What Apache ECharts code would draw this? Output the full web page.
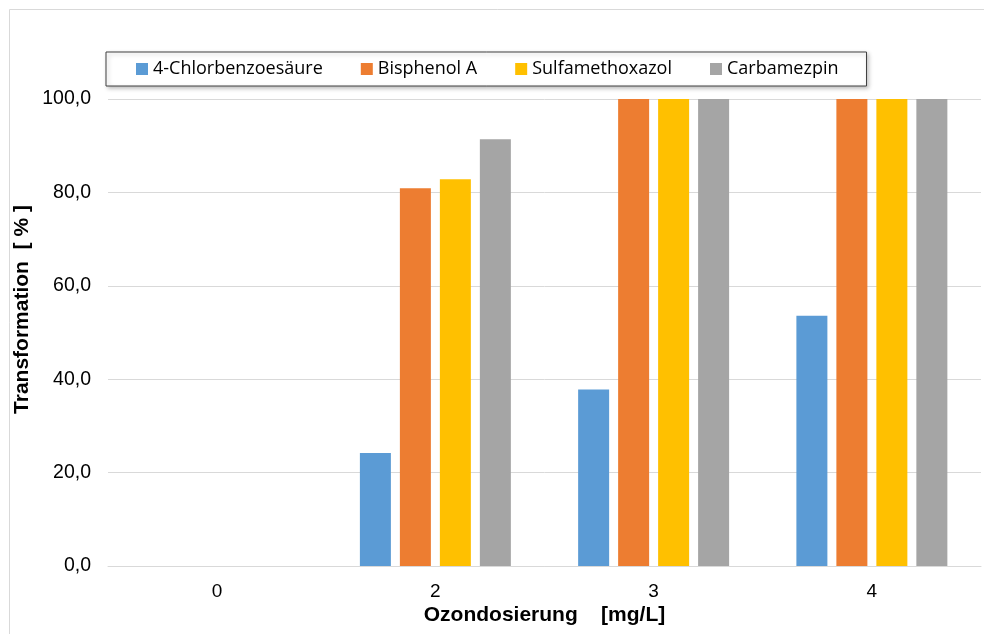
<!DOCTYPE html>
<html>
<head>
<meta charset="utf-8">
<script src="https://cdn.jsdelivr.net/npm/echarts@6/dist/echarts.min.js"></script>
<style>html,body{margin:0;padding:0;background:#fff}#c{width:984px;height:634px}</style>
</head>
<body>
<div id="c"></div>
<script>
const categories = ['0', '2', '3', '4'];
const seriesNames = ['4-Chlorbenzoesäure', 'Bisphenol A', 'Sulfamethoxazol', 'Carbamezpin'];
const chlorbenzoesaeure = [0, 24.2, 37.8, 53.6];
const bisphenolA = [0, 80.9, 100, 100];
const sulfamethoxazol = [0, 82.8, 100, 100];
const carbamezpin = [0, 91.4, 100, 100];
const colors = ['#5B9BD5', '#ED7D31', '#FFC000', '#A5A5A5'];
const yTicks = { min: 0, max: 100, interval: 20 };

const chart = echarts.init(document.getElementById('c'), null, { renderer: 'canvas' });
const values = [chlorbenzoesaeure, bisphenolA, sulfamethoxazol, carbamezpin];
chart.setOption({
  animation: false,
  backgroundColor: '#fff',
  graphic: [{
    type: 'rect', shape: { x: 9.5, y: 9.5, width: 1000, height: 1000 },
    style: { fill: 'none', stroke: '#d9d9d9', lineWidth: 1 }, silent: true, z: -10
  }],
  legend: {
    left: 106, top: 52,
    padding: [8, 28, 8, 30],
    itemGap: 38,
    itemWidth: 12, itemHeight: 12,
    icon: 'rect',
    borderColor: '#404040', borderWidth: 1,
    backgroundColor: '#fff',
    shadowColor: 'rgba(0,0,0,0.25)', shadowBlur: 4, shadowOffsetX: 2, shadowOffsetY: 2,
    textStyle: { fontFamily: 'Open Sans', fontSize: 18, color: '#000', padding: [0, 0, 0, 0] },
    data: seriesNames
  },
  grid: { left: 108, right: 3, top: 99, bottom: 68 },
  xAxis: {
    type: 'category', data: categories,
    axisLine: { lineStyle: { color: '#d9d9d9', width: 1 } },
    axisTick: { show: false },
    axisLabel: { fontFamily: 'Liberation Sans', fontSize: 19, color: '#000', margin: 16 },
    name: 'Ozondosierung    [mg/L]', nameLocation: 'middle', nameGap: 39,
    nameMoveOverlap: false,
    nameTextStyle: { fontFamily: 'Liberation Sans', fontWeight: 'bold', fontSize: 21, color: '#000' }
  },
  yAxis: {
    type: 'value', min: yTicks.min, max: yTicks.max, interval: yTicks.interval,
    axisLine: { show: false }, axisTick: { show: false },
    splitLine: { lineStyle: { color: '#d9d9d9', width: 1 } },
    axisLabel: {
      fontFamily: 'Liberation Sans', fontSize: 19.5, color: '#000', margin: 17,
      formatter: v => v.toFixed(1).replace('.', ',')
    },
    name: 'Transformation  [ % ]', nameLocation: 'middle', nameGap: 75,
    nameMoveOverlap: false,
    nameTextStyle: { fontFamily: 'Liberation Sans', fontWeight: 'bold', fontSize: 21, color: '#000', padding: [0, 0, 0, 46] }
  },
  series: seriesNames.map((n, i) => ({
    name: n, type: 'bar', data: values[i],
    barWidth: 31, barGap: '29%',
    itemStyle: { color: colors[i] }
  }))
});
</script>
</body>
</html>
